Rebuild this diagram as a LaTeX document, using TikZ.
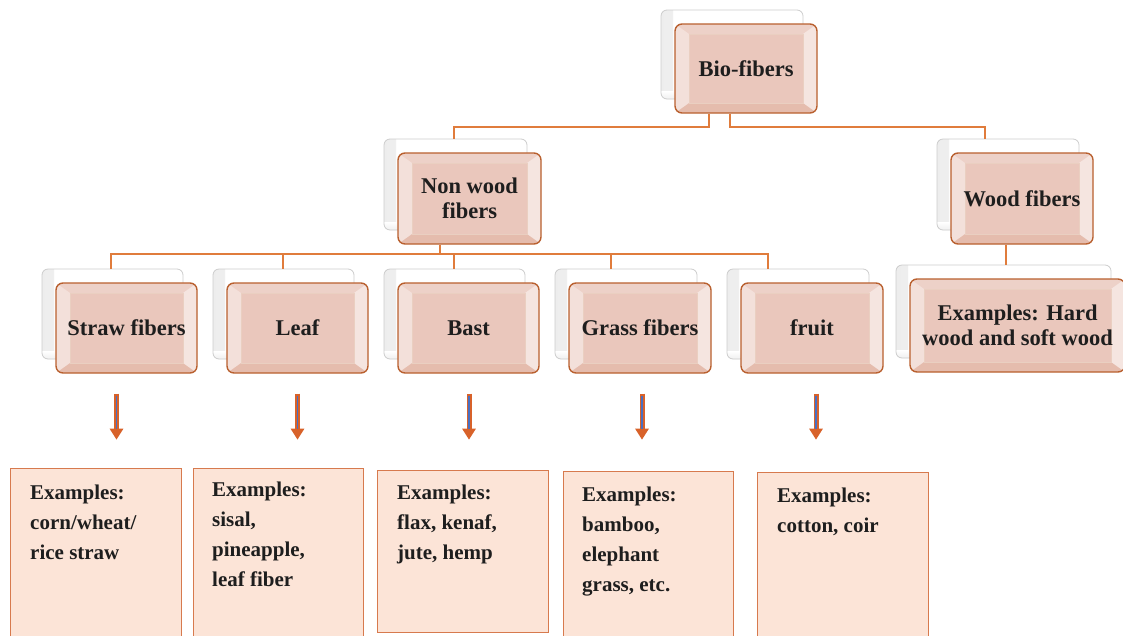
\documentclass[tikz,border=0pt]{standalone}
\usepackage{fontspec}
\setmainfont{Liberation Serif}
\usetikzlibrary{calc,arrows.meta}
\definecolor{cardpink}{HTML}{EAC7BC}
\definecolor{cardedge}{HTML}{B9602F}
\definecolor{connc}{HTML}{E07C3C}
\definecolor{exfill}{HTML}{FCE4D7}
\definecolor{exedge}{HTML}{D77A4E}
\definecolor{arrorange}{HTML}{D8622A}
\definecolor{arrblue}{HTML}{4A6FC0}
\definecolor{txt}{HTML}{1E1E1E}
\newcommand\twocard[5]{%
  \node[backcard, minimum width=#3, minimum height=#4] (#1B) at ($#2+(-14,-14)$) {};
  \node[card, minimum width=#3, minimum height=#4] (#1) at #2 {#5};}
\begin{document}
\begin{tikzpicture}[x=1pt,y=-1pt,
  backcard/.style={rounded corners=6pt, fill=white, draw=gray!40, line width=0.8pt,
    path picture={
      \shade[sharp corners, left color=gray!14, right color=white] (path picture bounding box.south west) rectangle ([xshift=12pt]path picture bounding box.north west);
      \shade[sharp corners, bottom color=gray!12, top color=white] (path picture bounding box.south west) rectangle ([yshift=8pt]path picture bounding box.south east);
    }},
  card/.style={rounded corners=7pt, fill=cardpink, draw=cardedge, line width=1.4pt,
    inner sep=0pt, align=center, text=txt,
    font=\fontsize{22.5}{25}\selectfont\bfseries,
    path picture={
      \fill[sharp corners, white, opacity=0.45] (path picture bounding box.south west) -- (path picture bounding box.north west) -- ([shift={(14pt,-10pt)}]path picture bounding box.north west) -- ([shift={(14pt,10pt)}]path picture bounding box.south west) -- cycle;
      \fill[sharp corners, white, opacity=0.55] (path picture bounding box.south east) -- (path picture bounding box.north east) -- ([shift={(-14pt,-10pt)}]path picture bounding box.north east) -- ([shift={(-14pt,10pt)}]path picture bounding box.south east) -- cycle;
      \fill[sharp corners, white, opacity=0.18] (path picture bounding box.north west) -- (path picture bounding box.north east) -- ([shift={(-14pt,-10pt)}]path picture bounding box.north east) -- ([shift={(14pt,-10pt)}]path picture bounding box.north west) -- cycle;
      \fill[sharp corners, cardedge, opacity=0.10] (path picture bounding box.south west) -- (path picture bounding box.south east) -- ([shift={(-14pt,10pt)}]path picture bounding box.south east) -- ([shift={(14pt,10pt)}]path picture bounding box.south west) -- cycle;
      \draw[sharp corners, cardedge!30, line width=0.5pt] ([shift={(14pt,10pt)}]path picture bounding box.south west) rectangle ([shift={(-14pt,-10pt)}]path picture bounding box.north east);
    }},
  conn/.style={draw=connc, line width=2pt},
  exbox/.style={fill=exfill, draw=exedge, line width=1.2pt, anchor=north west, inner sep=0pt},
  extext/.style={anchor=north west, inner sep=0pt, align=left, text=txt,
    font=\fontsize{21}{30}\selectfont\bfseries},
  arrshaft/.style={draw=arrorange, line width=5pt, -{Triangle[width=13pt,length=11pt]}},
  arrcore/.style={draw=arrblue, line width=1.6pt}
]
\useasboundingbox (0,0) rectangle (1123,635);

% cards
\twocard{bio}{(746,68.5)}{142pt}{89pt}{Bio-fibers}
\twocard{nw}{(469.5,198.5)}{143pt}{91pt}{Non wood\\fibers}
\twocard{wood}{(1022,198.5)}{142pt}{91pt}{Wood fibers}
\twocard{straw}{(126.5,328)}{141pt}{90pt}{Straw fibers}
\twocard{leaf}{(297.5,328)}{141pt}{90pt}{Leaf}
\twocard{bast}{(468.5,328)}{141pt}{90pt}{Bast}
\twocard{grass}{(640,328)}{142pt}{90pt}{Grass fibers}
\twocard{fruit}{(812,328)}{142pt}{90pt}{fruit}
\twocard{hard}{(1017.5,325.5)}{215pt}{93pt}{Examples: Hard\\wood and soft wood}

% connectors level 1
\draw[conn] ([xshift=-37pt]bio.south) -- ++(0,13) -| ([xshift=-2pt]nwB.north);
\draw[conn] ([xshift=-16pt]bio.south) -- ++(0,13) -| ([xshift=-23pt]woodB.north);

% connectors level 2
\draw[conn] ([xshift=-29.5pt]nw.south) -- ++(0,9) coordinate (bj);
\draw[conn] ([xshift=-2pt]strawB.north) |- (bj);
\draw[conn] ([xshift=-0.5pt]leafB.north) |- (bj);
\draw[conn] ([xshift=-1pt]bastB.north) |- (bj);
\draw[conn] ([xshift=-15pt]grassB.north) |- (bj);
\draw[conn] ([xshift=-30pt]fruitB.north) |- (bj);
\draw[conn] ([xshift=-16pt]wood.south) -- ([xshift=-16pt]wood.south |- hardB.north);

% bottom boxes
\node[exbox, minimum width=171pt, minimum height=172pt] (ex1) at (10,468) {};
\node[exbox, minimum width=170pt, minimum height=172pt] (ex2) at (193,468) {};
\node[exbox, minimum width=171pt, minimum height=162pt] (ex3) at (377,470) {};
\node[exbox, minimum width=170pt, minimum height=170pt] (ex4) at (563,471) {};
\node[exbox, minimum width=171pt, minimum height=170pt] (ex5) at (757,472) {};

\node[extext] (t1) at ([shift={(20pt,-17pt)}]ex1.north west) {Examples:\\corn/wheat/\\rice straw};
\node[extext] (t2) at ([shift={(19pt,-14pt)}]ex2.north west) {Examples:\\sisal,\\pineapple,\\leaf fiber};
\node[extext] (t3) at ([shift={(20pt,-15pt)}]ex3.north west) {Examples:\\flax, kenaf,\\jute, hemp};
\node[extext] (t4) at ([shift={(19pt,-16pt)}]ex4.north west) {Examples:\\bamboo,\\elephant\\grass, etc.};
\node[extext] (t5) at ([shift={(20pt,-16pt)}]ex5.north west) {Examples:\\cotton, coir};

% arrows
\foreach \n/\dx in {straw/-10,leaf/0,bast/0.5,grass/2,fruit/4}{
  \draw[arrshaft] ($(\n.south)+(\dx,20)$) -- ++(0,46);
  \draw[arrcore] ($(\n.south)+(\dx,22)$) -- ++(0,33);
}
\end{tikzpicture}
\end{document}
